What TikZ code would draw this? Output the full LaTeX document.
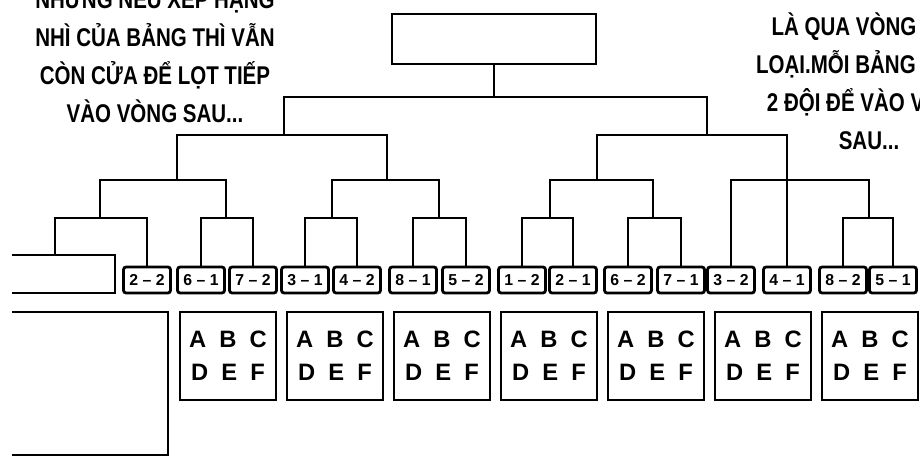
\documentclass[tikz,border=0pt]{standalone}
\usepackage{fontspec}
\setmainfont{Liberation Sans}
\newfontfamily\comic[FakeStretch=0.8]{Liberation Sans}
\usetikzlibrary{positioning}

\begin{document}
\begin{tikzpicture}[x=0.02cm, y=-0.02cm, line width=1.6pt,
  score/.style={draw, rounded corners=1.5pt, minimum width=0.94cm, minimum height=0.52cm, inner sep=0pt, font=\bfseries\fontsize{9}{10}\selectfont},
  group/.style={draw, minimum width=1.92cm, minimum height=1.76cm, align=center, font=\bfseries\fontsize{13.5}{18.7}\selectfont},
  note/.style={align=center, font=\comic\bfseries\fontsize{14.6}{21.6}\selectfont}]
\useasboundingbox (0,0) rectangle (920,460);
\node[draw, minimum width=4.08cm, minimum height=1cm] (top) at (494,39) {};
\node[note] (lefttxt) at (155,54) {NHƯNG NẾU XẾP HẠNG\\NHÌ CỦA BẢNG THÌ VẪN\\CÒN CỬA ĐỂ LỌT TIẾP\\VÀO VÒNG SAU...};
\node[note] (righttxt) at (869,81) {LÀ QUA VÒNG ĐẤU\\LOẠI.MỖI BẢNG CHỌN\\2 ĐỘI ĐỂ VÀO VÒNG\\SAU...};

% open boxes on the left
\draw (12,255) -| (115,293) -- (12,293);
\draw (12,312) -| (168,455) -- (12,455);
\coordinate (lb) at (55,255);

\foreach \i/\xx/\lab in {1/147/2 -- 2, 2/201/6 -- 1, 3/253/7 -- 2, 4/305/3 -- 1, 5/357/4 -- 2,
  6/413/8 -- 1, 7/466/5 -- 2, 8/522/1 -- 2, 9/573/2 -- 1, 10/628/6 -- 2, 11/681/7 -- 1,
  12/731/3 -- 2, 13/787/4 -- 1, 14/843/8 -- 2, 15/893/5 -- 1}
  \node[score] (s\i) at (\xx,280) {\lab};
\foreach \i in {1,...,7}
  \node[group] (g\i) at ({228+107*(\i-1)},356) {A~~B~~C\\D~~E~~F};

\coordinate (m1) at (100,218); \coordinate (m2) at (226,218);
\coordinate (m3) at (332,218); \coordinate (m4) at (439,218);
\coordinate (m5) at (550,218); \coordinate (m6) at (653,218);
\coordinate (m8) at (869,218);
\coordinate (q1) at (177,180); \coordinate (q2) at (387,180);
\coordinate (q3) at (597,180); \coordinate (q4) at (760,180);
\coordinate (h1) at (284,135); \coordinate (h2) at (707,135);
\coordinate (t) at (494,97);

\draw (lb) |- (m1) -| (s1.north);
\draw (s2.north) |- (m2) -| (s3.north);
\draw (s4.north) |- (m3) -| (s5.north);
\draw (s6.north) |- (m4) -| (s7.north);
\draw (s8.north) |- (m5) -| (s9.north);
\draw (s10.north) |- (m6) -| (s11.north);
\draw (s14.north) |- (m8) -| (s15.north);
\draw (m1) |- (q1) -| (m2);
\draw (m3) |- (q2) -| (m4);
\draw (m5) |- (q3) -| (m6);
\draw (s12.north) |- (q4) -| (m8);
\draw (q1) |- (h1) -| (q2);
\draw (q3) |- (h2) -| (s13.north);
\draw (h1) |- (t) -| (h2);
\draw (top) -- (t);
\end{tikzpicture}
\end{document}
